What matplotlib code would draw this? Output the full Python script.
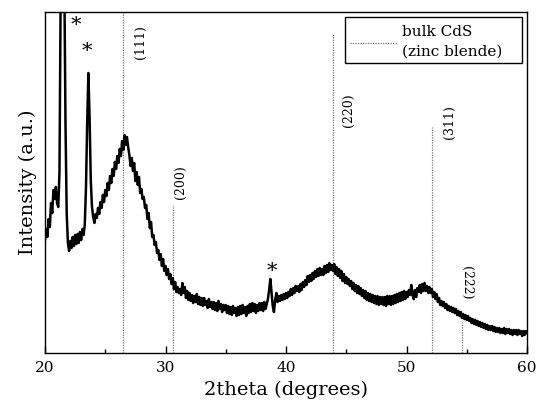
import numpy as np
import matplotlib.pyplot as plt
from matplotlib.patches import Rectangle

# XRD scan, 20-60 deg, 0.1 deg step (intensity in a.u.)
intensity = [
    113, 124, 116, 134, 126, 150, 140, 163, 154, 166,   # 20
    150, 146, 180, 360, 450, 460, 380, 230, 140, 110,   # 21
    102, 112, 105, 116, 107, 118, 109, 119, 110, 121,   # 22
    113, 124, 118, 128, 165, 230, 280, 235, 172, 146,   # 23
    136, 130, 139, 135, 145, 139, 151, 145, 158, 151,   # 24
    163, 157, 170, 163, 177, 170, 184, 177, 191, 184,   # 25
    197, 190, 204, 197, 212, 203, 218, 208, 216, 206,   # 26
    198, 187, 195, 182, 190, 172, 181, 168, 176, 160,   # 27
    164, 154, 156, 145, 148, 134, 140, 125, 131, 116,   # 28
    118, 108, 111, 100, 103, 93, 99, 87, 94, 82,        # 29
    87, 78, 84, 74, 79, 69, 75, 64, 71, 61,             # 30
    66, 60, 64, 58, 70, 60, 66, 55, 62, 53,             # 31
    60, 52, 58, 50, 57, 51, 59, 49, 56, 48,             # 32
    55, 47, 55, 48, 52, 45, 54, 46, 51, 44,             # 33
    51, 43, 50, 42, 52, 44, 49, 41, 48, 43,             # 34
    48, 40, 47, 39, 46, 38, 47, 40, 45, 37,             # 35
    46, 38, 47, 39, 48, 40, 46, 37, 47, 40,             # 36
    49, 41, 50, 42, 49, 40, 48, 42, 50, 43,             # 37
    50, 42, 51, 44, 49, 54, 63, 74, 60, 47,             # 38
    41, 53, 60, 51, 57, 52, 58, 53, 59, 54,             # 39
    60, 55, 61, 57, 64, 58, 65, 60, 67, 62,             # 40
    67, 61, 69, 63, 71, 66, 73, 68, 77, 71,             # 41
    78, 72, 80, 74, 82, 76, 84, 77, 85, 78,             # 42
    84, 78, 87, 80, 88, 81, 90, 83, 88, 82,             # 43
    89, 79, 86, 77, 84, 75, 82, 72, 79, 70,             # 44
    76, 69, 74, 67, 72, 64, 70, 62, 68, 60,             # 45
    67, 59, 65, 57, 63, 55, 62, 53, 60, 52,             # 46
    59, 51, 58, 50, 57, 49, 57, 48, 56, 49,             # 47
    56, 48, 56, 47, 57, 49, 57, 48, 57, 49,             # 48
    58, 50, 59, 51, 60, 52, 61, 53, 62, 54,             # 49
    61, 56, 63, 58, 68, 58, 54, 63, 56, 65,             # 50
    61, 68, 60, 69, 62, 70, 62, 67, 60, 66,             # 51
    60, 64, 56, 61, 54, 59, 51, 55, 48, 52,             # 52
    47, 51, 45, 49, 43, 47, 42, 46, 41, 45,             # 53
    40, 44, 38, 42, 37, 41, 35, 39, 34, 38,             # 54
    33, 37, 32, 35, 30, 34, 29, 33, 28, 32,             # 55
    27, 31, 26, 30, 25, 29, 24, 28, 23, 27,             # 56
    23, 27, 22, 26, 21, 25, 21, 25, 20, 24,             # 57
    20, 25, 19, 24, 20, 24, 19, 23, 18, 23,             # 58
    19, 23, 18, 23, 19, 22, 17, 22, 18, 22,             # 59
    20,
]
two_theta = np.linspace(20, 60, len(intensity))

# bulk CdS (zinc blende) reference lines
ref_pos = [26.5, 30.6, 43.9, 52.1, 54.6]
ref_height = [341, 148, 320, 226, 31]
ref_label = ['(111)', '(200)', '(220)', '(311)', '(222)']
label_x = [27.9, 31.2, 45.15, 53.6, 55.0]
label_y = [311, 171, 243, 231, 70]
label_rot = [90, 90, 90, 90, 270]

# impurity peaks marked with *
star_x = [22.57, 23.49, 38.84]
star_y = [327, 301, 81]

serif = 'DejaVu Serif'
ref_color = '#777777'

fig = plt.figure(figsize=(5.37, 4.05), dpi=100)
ax = fig.add_axes([0.0838, 0.1284, 0.8976, 0.842])

ax.vlines(ref_pos, 0, ref_height, colors=ref_color, linestyles=(0, (1, 1)),
          linewidth=0.9)
ax.plot(two_theta, intensity, color='black', linewidth=1.8)

for x, y, t, r in zip(label_x, label_y, ref_label, label_rot):
    ax.text(x, y, t, rotation=r, ha='center', va='center', fontsize=9, family=serif)
for x, y in zip(star_x, star_y):
    ax.text(x, y, '*', ha='center', va='center', fontsize=15, family=serif)

ax.set_xlim(20, 60)
ax.set_ylim(0, 341)
ax.set_xticks([20, 30, 40, 50, 60])
ax.set_xticks([25, 35, 45, 55], minor=True)
ax.tick_params(axis='x', which='major', direction='in', length=5, width=1,
               labelsize=11, pad=6)
ax.tick_params(axis='x', which='minor', direction='in', length=3, width=1)
ax.set_yticks([])
for lab in ax.get_xticklabels():
    lab.set_family(serif)
for s in ax.spines.values():
    s.set_linewidth(1.0)

ax.set_xlabel('2theta (degrees)', fontsize=14, family=serif, labelpad=4)
ax.set_ylabel('Intensity (a.u.)', fontsize=14, family=serif, labelpad=6)

# legend box drawn by hand (line sample, two left-aligned text lines)
ax.add_patch(Rectangle((0.6224, 0.8504), 0.3672, 0.1349, transform=ax.transAxes,
                       facecolor='white', edgecolor='black', linewidth=1.0, zorder=5))
ax.plot([0.6328, 0.7303], [0.9091, 0.9091], transform=ax.transAxes,
        color=ref_color, linestyle=(0, (1, 1)), linewidth=0.9, zorder=6)
ax.text(0.7407, 0.9413, 'bulk CdS', transform=ax.transAxes, ha='left', va='center',
        fontsize=11, family=serif, zorder=6)
ax.text(0.7407, 0.8827, '(zinc blende)', transform=ax.transAxes, ha='left',
        va='center', fontsize=11, family=serif, zorder=6)

fig.savefig('out.png', dpi=100)
